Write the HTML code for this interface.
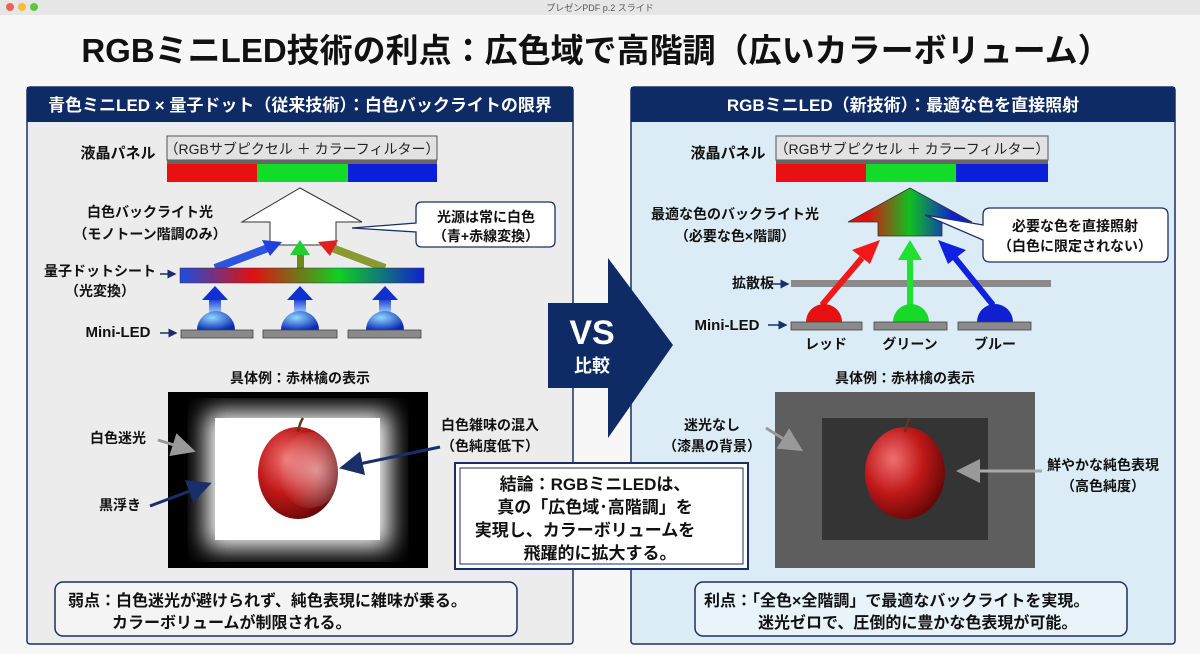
<!DOCTYPE html>
<html><head><meta charset="utf-8"><style>
html,body{margin:0;padding:0;background:#f7f7f7;}
svg{display:block;font-family:"Liberation Sans","Noto Sans CJK JP",sans-serif;font-weight:bold;}
</style></head><body>
<svg width="1200" height="654" viewBox="0 0 1200 654" xmlns="http://www.w3.org/2000/svg">
<defs>
<linearGradient id="qd" x1="0" x2="1" y1="0" y2="0">
<stop offset="0" stop-color="#1a4ee0"/><stop offset="0.3" stop-color="#e01010"/><stop offset="0.65" stop-color="#10d020"/><stop offset="1" stop-color="#1020d0"/></linearGradient>
<linearGradient id="rgb" x1="0" x2="1" y1="0" y2="0">
<stop offset="0.15" stop-color="#e01010"/><stop offset="0.5" stop-color="#10c020"/><stop offset="0.85" stop-color="#1020d0"/></linearGradient>
<linearGradient id="bup" x1="0" x2="0" y1="1" y2="0">
<stop offset="0" stop-color="#a8d8ff"/><stop offset="1" stop-color="#1030d0"/></linearGradient>
<radialGradient id="dome" cx="0.4" cy="0.35" r="0.7"><stop offset="0" stop-color="#8fd8ff"/><stop offset="1" stop-color="#0a2ab0"/></radialGradient>
<radialGradient id="apple" cx="0.35" cy="0.35" r="0.75"><stop offset="0" stop-color="#f07070"/><stop offset="0.5" stop-color="#c01818"/><stop offset="1" stop-color="#5a0505"/></radialGradient>
<radialGradient id="wash" cx="0.6" cy="0.5" r="0.6"><stop offset="0" stop-color="#fff" stop-opacity="0.55"/><stop offset="1" stop-color="#fff" stop-opacity="0"/></radialGradient>
<filter id="blur"><feGaussianBlur stdDeviation="12"/></filter>
<marker id="ah" markerWidth="8" markerHeight="8" refX="6" refY="4" orient="auto"><path d="M0,0 L8,4 L0,8 z" fill="#1a2f6a"/></marker>
<marker id="ahg" markerWidth="8" markerHeight="8" refX="6" refY="4" orient="auto"><path d="M0,0 L8,4 L0,8 z" fill="#999"/></marker>
<marker id="ahs" markerWidth="6" markerHeight="6" refX="5" refY="3" orient="auto"><path d="M0,0 L6,3 L0,6 z" fill="#1a2f6a"/></marker>
</defs>
<rect x="0" y="0" width="1200" height="15" fill="#e6e6e6"/>
<circle cx="10" cy="7" r="4" fill="#ee5f57"/><circle cx="22" cy="7" r="4" fill="#f5bd30"/><circle cx="34" cy="7" r="4" fill="#5fc73f"/>
<text x="600" y="11" font-size="9" text-anchor="middle" fill="#555" font-weight="normal">プレゼンPDF p.2 スライド</text>
<text x="596" y="62" font-size="33" text-anchor="middle" fill="#111">RGBミニLED技術の利点：広色域で高階調（広いカラーボリューム）</text>

<rect x="27" y="87" width="546" height="557" fill="#ececec" stroke="#1a2f6a" stroke-width="1.5" rx="3"/>
<rect x="27" y="87" width="546" height="35" fill="#0f2b66"/>
<text x="300" y="111" font-size="17" text-anchor="middle" fill="#fff">青色ミニLED × 量子ドット（従来技術）：白色バックライトの限界</text>
<rect x="631" y="87" width="544" height="557" fill="#dcecf6" stroke="#1a2f6a" stroke-width="1.5" rx="3"/>
<rect x="631" y="87" width="544" height="35" fill="#0f2b66"/>
<text x="903" y="111" font-size="17" text-anchor="middle" fill="#fff">RGBミニLED（新技術）：最適な色を直接照射</text>

<text x="118" y="158" font-size="15" text-anchor="middle" fill="#111">液晶パネル</text>
<rect x="167" y="136" width="270" height="24" fill="#e2e2e2" stroke="#555"/>
<text x="302" y="154" font-size="14" text-anchor="middle" fill="#222" font-weight="normal">（RGBサブピクセル ＋ カラーフィルター）</text>
<rect x="167" y="160" width="270" height="4" fill="#666"/>
<rect x="167" y="164" width="90" height="18" fill="#e81010"/><rect x="257" y="164" width="91" height="18" fill="#12dc28"/><rect x="348" y="164" width="89" height="18" fill="#0a1fd8"/>
<polygon points="300,188 362,222 336,222 336,245 270,245 270,222 242,222" fill="#fff" stroke="#333" stroke-width="1"/>
<text x="150" y="217" font-size="14" text-anchor="middle" fill="#111">白色バックライト光</text>
<text x="150" y="239" font-size="14" text-anchor="middle" fill="#111">（モノトーン階調のみ）</text>
<path d="M422,202 H549 Q555,202 555,208 V241 Q555,247 549,247 H422 Q416,247 416,241 V232 L352,228 L416,223 V208 Q416,202 422,202 Z" fill="#fff" stroke="#1a2f6a" stroke-width="1.3"/>
<text x="486" y="222" font-size="14" text-anchor="middle" fill="#111">光源は常に白色</text>
<text x="486" y="241" font-size="14" text-anchor="middle" fill="#111">（青+赤線変換）</text>
<line x1="215" y1="268" x2="268" y2="248" stroke="#2b55e0" stroke-width="8"/><polygon points="282,242 262,240 270,256" fill="#2040e0"/>
<rect x="297" y="253" width="7" height="15" fill="#6a8a20"/><polygon points="300,240 290,255 310,255" fill="#20d030"/>
<line x1="385" y1="268" x2="332" y2="248" stroke="#8a9a30" stroke-width="8"/><polygon points="318,242 338,240 330,256" fill="#e02020"/>
<text x="100" y="276" font-size="14" text-anchor="middle" fill="#111">量子ドットシート</text>
<text x="100" y="296" font-size="14" text-anchor="middle" fill="#111">（光変換）</text>
<line x1="160" y1="274" x2="175" y2="274" stroke="#1a2f6a" stroke-width="1.5" marker-end="url(#ahs)"/>
<rect x="180" y="268" width="244" height="15" fill="url(#qd)" stroke="#333" stroke-width="0.5"/>
<g>
<rect x="209" y="298" width="12" height="16" fill="url(#bup)"/><polygon points="215,286 202,300 228,300" fill="#1030d0"/>
<rect x="294" y="298" width="12" height="16" fill="url(#bup)"/><polygon points="300,286 287,300 313,300" fill="#1030d0"/>
<rect x="379" y="298" width="12" height="16" fill="url(#bup)"/><polygon points="385,286 372,300 398,300" fill="#1030d0"/>
<path d="M197,330 A19,19 0 0 1 235,330 Z" fill="url(#dome)"/>
<path d="M281,330 A19,19 0 0 1 319,330 Z" fill="url(#dome)"/>
<path d="M366,330 A19,19 0 0 1 404,330 Z" fill="url(#dome)"/>
<rect x="181" y="330" width="72" height="8" fill="#8a8a8a" stroke="#444" stroke-width="0.8"/>
<rect x="263" y="330" width="74" height="8" fill="#8a8a8a" stroke="#444" stroke-width="0.8"/>
<rect x="348" y="330" width="73" height="8" fill="#8a8a8a" stroke="#444" stroke-width="0.8"/>
</g>
<text x="118" y="337" font-size="15" text-anchor="middle" fill="#111">Mini-LED</text>
<line x1="160" y1="333" x2="176" y2="333" stroke="#1a2f6a" stroke-width="1.5" marker-end="url(#ahs)"/>

<text x="300" y="383" font-size="14" text-anchor="middle" fill="#111">具体例：赤林檎の表示</text>
<rect x="168" y="392" width="260" height="176" fill="#000"/>
<rect x="206" y="412" width="184" height="136" fill="#fff" filter="url(#blur)"/>
<rect x="215" y="418" width="165" height="122" fill="#fff"/>
<ellipse cx="298" cy="473" rx="40" ry="46" fill="url(#apple)"/>
<ellipse cx="310" cy="470" rx="32" ry="38" fill="url(#wash)"/>
<path d="M298,432 Q300,422 303,418" stroke="#5a3a1a" stroke-width="2.5" fill="none"/>
<text x="118" y="443" font-size="14" text-anchor="middle" fill="#111">白色迷光</text>
<line x1="158" y1="440" x2="190" y2="450" stroke="#999" stroke-width="3" marker-end="url(#ahg)"/>
<text x="120" y="510" font-size="14" text-anchor="middle" fill="#111">黒浮き</text>
<line x1="150" y1="506" x2="206" y2="485" stroke="#1a2f6a" stroke-width="3" marker-end="url(#ah)"/>
<text x="490" y="430" font-size="14" text-anchor="middle" fill="#111">白色雑味の混入</text>
<text x="490" y="451" font-size="14" text-anchor="middle" fill="#111">（色純度低下）</text>
<line x1="440" y1="447" x2="345" y2="467" stroke="#1a2f6a" stroke-width="3" marker-end="url(#ah)"/>
<rect x="55" y="582" width="462" height="54" rx="8" fill="#f4f4f4" stroke="#1a2f6a" stroke-width="1.5"/>
<text x="68" y="606" font-size="16" fill="#111">弱点：白色迷光が避けられず、純色表現に雑味が乗る。</text>
<text x="112" y="628" font-size="16" fill="#111">カラーボリュームが制限される。</text>

<text x="728" y="158" font-size="15" text-anchor="middle" fill="#111">液晶パネル</text>
<rect x="776" y="136" width="272" height="24" fill="#e2e2e2" stroke="#555"/>
<text x="912" y="154" font-size="14" text-anchor="middle" fill="#222" font-weight="normal">（RGBサブピクセル ＋ カラーフィルター）</text>
<rect x="776" y="160" width="272" height="4" fill="#666"/>
<rect x="776" y="164" width="90" height="18" fill="#e81010"/><rect x="866" y="164" width="90" height="18" fill="#12dc28"/><rect x="956" y="164" width="92" height="18" fill="#0a1fd8"/>
<polygon points="910,188 972,222 942,222 942,236 878,236 878,222 848,222" fill="url(#rgb)" stroke="#333" stroke-width="0.8"/>
<text x="735" y="219" font-size="14" text-anchor="middle" fill="#111">最適な色のバックライト光</text>
<text x="735" y="241" font-size="14" text-anchor="middle" fill="#111">（必要な色×階調）</text>
<path d="M990,208 H1161 Q1168,208 1168,215 V255 Q1168,262 1161,262 H990 Q983,262 983,255 V240 L925,215 L983,225 V215 Q983,208 990,208 Z" fill="#fff" stroke="#1a2f6a" stroke-width="1.3"/>
<text x="1075" y="231" font-size="14" text-anchor="middle" fill="#111">必要な色を直接照射</text>
<text x="1075" y="251" font-size="14" text-anchor="middle" fill="#111">（白色に限定されない）</text>
<text x="753" y="288" font-size="14" text-anchor="middle" fill="#111">拡散板</text>
<line x1="770" y1="284" x2="788" y2="284" stroke="#1a2f6a" stroke-width="1.5" marker-end="url(#ahs)"/>
<rect x="791" y="280" width="260" height="7" fill="#8a8a8a"/>
<line x1="822" y1="305" x2="862" y2="258" stroke="#f01818" stroke-width="6"/><polygon points="880,240 852,250 870,264" fill="#f01818"/>
<line x1="910" y1="305" x2="910" y2="258" stroke="#20e030" stroke-width="6"/><polygon points="910,240 898,260 922,260" fill="#20e030"/>
<line x1="993" y1="305" x2="955" y2="258" stroke="#1020e0" stroke-width="6"/><polygon points="938,240 966,250 948,264" fill="#1020e0"/>
<path d="M806,322 A18,18 0 0 1 842,322 Z" fill="#e81010"/>
<path d="M893,322 A18,18 0 0 1 929,322 Z" fill="#18d828"/>
<path d="M977,322 A18,18 0 0 1 1013,322 Z" fill="#1020d0"/>
<rect x="791" y="322" width="71" height="8" fill="#8a8a8a" stroke="#444" stroke-width="0.8"/>
<rect x="874" y="322" width="73" height="8" fill="#8a8a8a" stroke="#444" stroke-width="0.8"/>
<rect x="958" y="322" width="73" height="8" fill="#8a8a8a" stroke="#444" stroke-width="0.8"/>
<text x="727" y="330" font-size="15" text-anchor="middle" fill="#111">Mini-LED</text>
<line x1="768" y1="325" x2="786" y2="325" stroke="#1a2f6a" stroke-width="1.5" marker-end="url(#ahs)"/>
<text x="826" y="349" font-size="14" text-anchor="middle" fill="#111">レッド</text>
<text x="910" y="349" font-size="14" text-anchor="middle" fill="#111">グリーン</text>
<text x="995" y="349" font-size="14" text-anchor="middle" fill="#111">ブルー</text>
<text x="905" y="383" font-size="14" text-anchor="middle" fill="#111">具体例：赤林檎の表示</text>
<rect x="775" y="392" width="260" height="176" fill="#5e5e5e"/>
<rect x="822" y="418" width="166" height="122" fill="#343434"/>
<ellipse cx="905" cy="473" rx="40" ry="46" fill="url(#apple)"/>
<path d="M905,432 Q907,422 910,418" stroke="#5a3a1a" stroke-width="2.5" fill="none"/>
<text x="712" y="430" font-size="14" text-anchor="middle" fill="#111">迷光なし</text>
<text x="712" y="451" font-size="14" text-anchor="middle" fill="#111">（漆黒の背景）</text>
<line x1="766" y1="428" x2="798" y2="448" stroke="#999" stroke-width="3" marker-end="url(#ahg)"/>
<text x="1103" y="470" font-size="14" text-anchor="middle" fill="#111">鮮やかな純色表現</text>
<text x="1103" y="491" font-size="14" text-anchor="middle" fill="#111">（高色純度）</text>
<line x1="1042" y1="471" x2="962" y2="471" stroke="#aaa" stroke-width="3" marker-end="url(#ahg)"/>
<rect x="695" y="582" width="432" height="54" rx="8" fill="#e8f3fa" stroke="#1a2f6a" stroke-width="1.5"/>
<text x="704" y="606" font-size="16" fill="#111">利点：「全色×全階調」で最適なバックライトを実現。</text>
<text x="758" y="628" font-size="16" fill="#111">迷光ゼロで、圧倒的に豊かな色表現が可能。</text>

<polygon points="548,303 608,303 608,258 673,345 608,438 608,388 548,388" fill="#0f2b66"/>
<text x="592" y="344" font-size="34" text-anchor="middle" fill="#fff">VS</text>
<text x="592" y="372" font-size="18" text-anchor="middle" fill="#fff">比較</text>

<rect x="455" y="463" width="293" height="106" fill="#fff" stroke="#1a2f6a" stroke-width="2"/>
<rect x="460" y="468" width="283" height="96" fill="none" stroke="#1a2f6a" stroke-width="1"/>
<text x="595" y="490" font-size="17" text-anchor="middle" fill="#111">結論：RGBミニLEDは、</text>
<text x="595" y="513" font-size="17" text-anchor="middle" fill="#111">真の「広色域･高階調」を</text>
<text x="585" y="536" font-size="17" text-anchor="middle" fill="#111">実現し、カラーボリュームを</text>
<text x="600" y="559" font-size="17" text-anchor="middle" fill="#111">飛躍的に拡大する。</text>
</svg>
</body></html>
